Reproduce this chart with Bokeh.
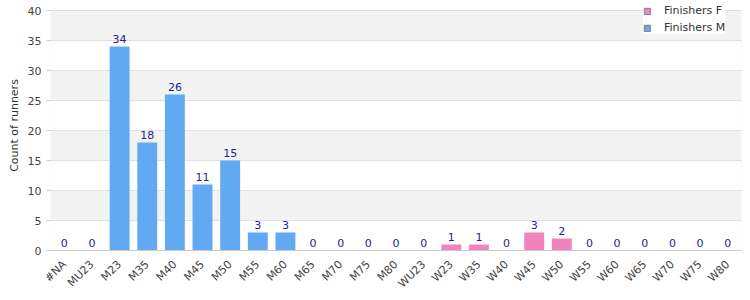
import math
import numpy as np
from bokeh.plotting import figure
from bokeh.models import (FactorRange, Range1d, Legend, LegendItem, ColumnDataSource,
                          SingleIntervalTicker, BoxAnnotation)
from bokeh.core.properties import value
from bokeh.embed import file_html
from bokeh.resources import INLINE

categories = ["#NA", "MU23", "M23", "M35", "M40", "M45", "M50", "M55", "M60", "M65", "M70", "M75", "M80",
              "WU23", "W23", "W35", "W40", "W45", "W50", "W55", "W60", "W65", "W70", "W75", "W80"]
finishers_m = [0, 0, 34, 18, 26, 11, 15, 3, 3, 0, 0, 0, 0, 0, 0, 0, 0, 0, 0, 0, 0, 0, 0, 0, 0]
finishers_f = [0, 0, 0, 0, 0, 0, 0, 0, 0, 0, 0, 0, 0, 0, 1, 1, 0, 3, 2, 0, 0, 0, 0, 0, 0]
totals = [m + f for m, f in zip(finishers_m, finishers_f)]
y_max = 40

FONT = "DejaVu Sans"
BLUE = "#62a9f3"
PINK = "#f383bc"

src = ColumnDataSource(dict(cat=categories, m=finishers_m, f=finishers_f, tot=totals,
                            lbl=[str(t) for t in totals]))

# frame starts at the very top so the legend can sit above the 40 line; 10px head room = 10/6 units
p = figure(width=750, height=300, x_range=FactorRange(*categories), y_range=Range1d(0, y_max + 10 / 6),
           output_backend="svg", toolbar_location=None,
           min_border_left=50, min_border_right=9, min_border_top=0, min_border_bottom=50)
p.x_range.range_padding = 0
p.background_fill_color = "white"
p.outline_line_color = None

p.xgrid.grid_line_color = None
p.ygrid.grid_line_color = "#e0e0e0"
p.ygrid.band_fill_color = "#f3f3f3"
p.ygrid.band_fill_alpha = 1.0

# plot-area border (0..40)
p.add_layout(BoxAnnotation(bottom=0, top=y_max, fill_alpha=0, line_color="#dddddd",
                           line_width=1, level="underlay"))

p.vbar(x="cat", top="m", width=0.72, source=src, fill_color=BLUE, line_color=None)
p.vbar(x="cat", top="f", width=0.72, source=src, fill_color=PINK, line_color=None)

# legend swatches (gray-bordered squares, as in the reference); NaN height -> not drawn in plot
lf = p.vbar(x=["#NA"], top=np.array([np.nan]), width=0.72, fill_color=PINK, line_color="#808080")
lm = p.vbar(x=["#NA"], top=np.array([np.nan]), width=0.72, fill_color=BLUE, line_color="#808080")

p.text(x="cat", y="tot", text="lbl", source=src, text_align="center", text_baseline="bottom",
       y_offset=-4, text_font=value(FONT), text_font_size="11px", text_color="#22229a")

p.yaxis.ticker = SingleIntervalTicker(interval=5)
p.yaxis.minor_tick_line_color = None
p.yaxis.major_tick_line_color = "#cccccc"
p.yaxis.major_tick_out = 4
p.yaxis.major_tick_in = 0
p.yaxis.axis_line_color = None
p.yaxis.axis_label = "Count of runners"
p.yaxis.axis_label_text_font = FONT
p.yaxis.axis_label_text_font_style = "normal"
p.yaxis.axis_label_text_font_size = "11px"
p.yaxis.axis_label_text_color = "#333333"
p.yaxis.axis_label_standoff = 4
p.yaxis.major_label_text_font = FONT
p.yaxis.major_label_text_font_size = "11px"
p.yaxis.major_label_text_color = "#444444"

p.xaxis.major_label_orientation = math.pi / 4
p.xaxis.major_tick_line_color = None
p.xaxis.axis_line_color = "#cccccc"
p.xaxis.major_label_text_font = FONT
p.xaxis.major_label_text_font_size = "11px"
p.xaxis.major_label_text_color = "#444444"
p.xaxis.major_label_standoff = 6

legend = Legend(items=[LegendItem(label="Finishers F", renderers=[lf]),
                       LegendItem(label="Finishers M", renderers=[lm])],
                location=(593, 216), label_text_font=FONT, label_text_font_size="11px",
                label_text_color="#333333", glyph_width=8, glyph_height=8, spacing=4,
                padding=3, margin=0, label_height=12, background_fill_color="white",
                background_fill_alpha=1.0, border_line_color=None, label_standoff=13)
p.add_layout(legend)

open("out.html", "w").write(file_html(p, INLINE))
